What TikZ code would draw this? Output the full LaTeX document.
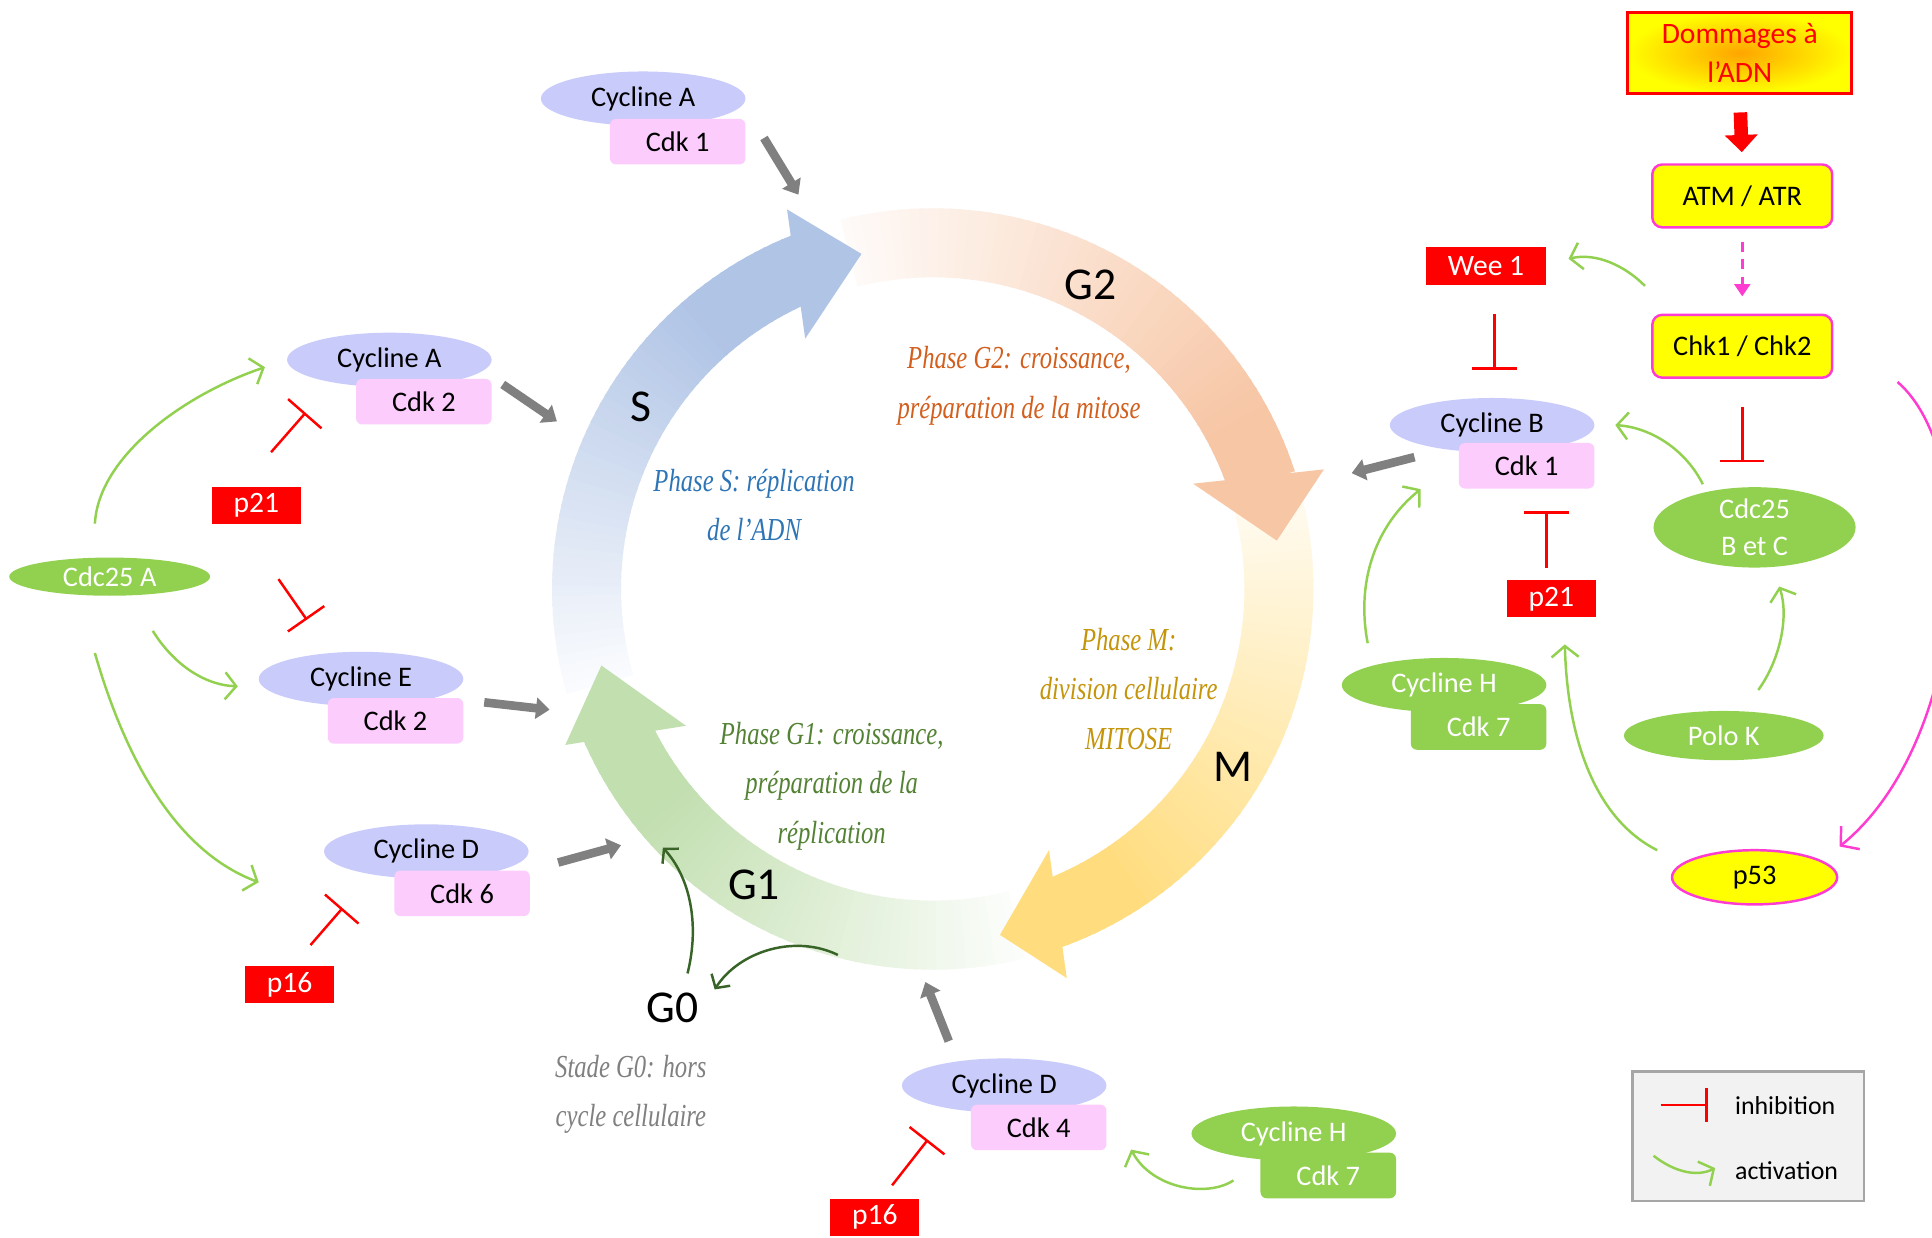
\documentclass[tikz,border=0pt]{standalone}
\usepackage{fontspec}
\usepackage{graphicx}
\setsansfont{Carlito}
\newfontfamily\handfont{Liberation Serif}
\usetikzlibrary{shapes.geometric,arrows.meta,calc}
\definecolor{lav}{RGB}{201,203,250}
\definecolor{pinkc}{RGB}{252,204,252}
\definecolor{grn}{RGB}{146,208,80}
\definecolor{redc}{RGB}{255,0,0}
\definecolor{mag}{RGB}{255,60,210}
\definecolor{ylw}{RGB}{255,255,0}
\definecolor{grayarr}{RGB}{128,128,128}
\definecolor{dkgrn}{RGB}{56,100,40}
\definecolor{ringB}{RGB}{176,196,230}
\definecolor{ringO}{RGB}{247,198,165}
\definecolor{ringY}{RGB}{255,220,125}
\definecolor{ringG}{RGB}{194,223,176}
\definecolor{txtS}{RGB}{46,117,182}
\definecolor{txtGB}{RGB}{210,95,30}
\definecolor{txtM}{RGB}{196,148,10}
\definecolor{txtGA}{RGB}{84,130,53}
\definecolor{txtGZ}{RGB}{128,128,128}
\definecolor{legfill}{RGB}{242,242,242}
\definecolor{legdraw}{RGB}{166,166,166}
\definecolor{domc}{RGB}{255,165,0}
\newcommand{\hl}[1]{\scalebox{1.0}[1.3]{#1}}
\tikzset{
 base/.style={font=\sffamily\fontsize{23}{27}\selectfont, inner sep=0pt},
 cyc/.style={base, ellipse, fill=lav, minimum width=166pt, minimum height=44pt},
 cdk/.style={base, rectangle, rounded corners=5pt, fill=pinkc, minimum width=110pt, minimum height=37pt},
 gcyc/.style={cyc, fill=grn, text=white},
 gcdk/.style={cdk, fill=grn, text=white},
 redbox/.style={base, font=\sffamily\fontsize{24}{27}\selectfont, fill=redc, text=white, minimum width=72pt, minimum height=30pt},
 ybox/.style={base, rectangle, rounded corners=8pt, fill=ylw, draw=mag, line width=2pt, minimum width=146pt, minimum height=51pt},
 gell/.style={base, ellipse, fill=grn, text=white},
 phaselbl/.style={font=\sffamily\fontsize{37}{40}\selectfont, inner sep=0pt},
 hand/.style={font=\handfont\itshape\fontsize{20}{40}\selectfont, align=center, inner sep=0pt},
 act/.style={draw=grn, line width=2pt, -{Straight Barb[length=9pt,width=22pt]}},
 inhib/.style={draw=redc, line width=2pt, -{Bar[width=36pt]}},
 grarr/.style={draw=grayarr, line width=7pt, -{Triangle[length=11pt,width=17pt]}},
 dgarr/.style={draw=dkgrn, line width=2pt, -{Straight Barb[length=8pt,width=18pt]}},
 magarr/.style={draw=mag, line width=2pt, -{Straight Barb[length=10pt,width=24pt]}},
}
\newcommand{\RingArc}[5]{%
  \pgfmathtruncatemacro{\rN}{(#2-(#3))/1.5}%
  \foreach \i in {0,...,\rN}{%
    \pgfmathsetmacro{\rA}{#2-1.5*\i}%
    \pgfmathsetmacro{\rB}{max(#3,\rA-1.9)}%
    \pgfmathsetmacro{\rP}{min(100,#4+(100-#4)*(#2-\rA)/#5)}%
    \fill[fill=#1!\rP!white] (\rA:253pt) -- (\rA:309pt) -- (\rB:309pt) -- (\rB:253pt) -- cycle;
  }}
\begin{document}
\begin{tikzpicture}[x=1pt,y=-1pt]
\useasboundingbox (0,0) rectangle (1568,1004);
\fill[white] (0,0) rectangle (1568,1004);

% ---------------- ring ----------------
\begin{scope}[shift={(757,478)}]
  \RingArc{ringB}{196}{111}{6}{65}
  \RingArc{ringO}{104}{17}{8}{75}
  \RingArc{ringY}{18}{-71}{8}{75}
  \RingArc{ringG}{-76}{-157}{6}{65}
  \fill[ringB] (117:228pt) -- (111:330pt) -- (102:278pt) -- cycle;
  \fill[ringO] (22:228pt) -- (17:332pt) -- (8:282pt) -- cycle;
  \fill[ringY] (-66:232pt) -- (-71:334pt) -- (-79:286pt) -- cycle;
  \fill[ringG] (-151:229pt) -- (-157:324pt) -- (-167:276pt) -- cycle;
\end{scope}

% phase labels
\node[phaselbl] (lS) at (520,330) {S};
\node[phaselbl] (lG2) at (885,231) {G2};
\node[phaselbl] (lM) at (1001,622) {M};
\node[phaselbl] (lG1) at (612,718) {G1};
\node[phaselbl] (lG0) at (546,818) {G0};

\node[hand, text=txtGB] (tG2) at (827,313) {\hl{Phase G2: croissance,}\\\hl{préparation de la mitose}};
\node[hand, text=txtS] (tS) at (612,410) {\hl{Phase S: réplication}\\\hl{de l’ADN}};
\node[hand, text=txtM] (tM) at (916,559) {\hl{Phase M:}\\\hl{division cellulaire}\\\hl{MITOSE}};
\node[hand, text=txtGA] (tG1) at (675,638) {\hl{Phase G1: croissance,}\\\hl{préparation de la}\\\hl{réplication}};
\node[hand, text=txtGZ] (tG0) at (512,888) {\hl{Stade G0: hors}\\\hl{cycle cellulaire}};

% ---------------- complexes ----------------
\node[cyc] (cycA1) at (522,80) {Cycline A};
\node[cdk] (cdkA1) at (550,115) {Cdk 1};
\node[cyc] (cycA2) at (316,292) {Cycline A};
\node[cdk] (cdkA2) at (344,326) {Cdk 2};
\node[cyc] (cycE) at (293,551) {Cycline E};
\node[cdk] (cdkE) at (321,585) {Cdk 2};
\node[cyc] (cycD6) at (346,691) {Cycline D};
\node[cdk] (cdkD6) at (375,725) {Cdk 6};
\node[cyc] (cycD4) at (815,881) {Cycline D};
\node[cdk] (cdkD4) at (843,915) {Cdk 4};
\node[cyc] (cycB) at (1211,345) {Cycline B};
\node[cdk] (cdkB) at (1239,378) {Cdk 1};
\node[gcyc] (cycH1) at (1172,556) {Cycline H};
\node[gcdk] (cdkH1) at (1200,590) {Cdk 7};
\node[gcyc] (cycH2) at (1050,920) {Cycline H};
\node[gcdk] (cdkH2) at (1078,954) {Cdk 7};

\node[gell, minimum width=163pt, minimum height=31pt] (cdcA) at (89,468) {Cdc25 A};
\node[gell, minimum width=164pt, minimum height=54pt, align=center, font=\sffamily\fontsize{23}{30}\selectfont] (cdcBC) at (1424,428) {Cdc25\\B et C};
\node[gell, minimum width=162pt, minimum height=40pt] (polo) at (1399,597) {Polo K};
\node[base, ellipse, fill=ylw, draw=mag, line width=2pt, minimum width=134pt, minimum height=44pt] (p53) at (1424,712) {p53};

\node[redbox] (p21L) at (208,410) {p21};
\node[redbox] (p16L) at (235,799) {p16};
\node[redbox] (p16B) at (710,988) {p16};
\node[redbox] (p21R) at (1259,486) {p21};
\node[redbox, minimum width=97pt, minimum height=31pt] (wee) at (1206,216) {Wee 1};

\node[base, rectangle, minimum width=182pt, minimum height=66pt, inner color=domc, outer color=ylw, draw=redc, line width=2.5pt, text=redc, align=center, font=\sffamily\fontsize{24}{31}\selectfont] (dom) at (1412,43) {Dommages à\\l’ADN};
\node[ybox] (atm) at (1414,159) {ATM / ATR};
\node[ybox] (chk) at (1414,281) {Chk1 / Chk2};

% ---------------- gray arrows to the cycle ----------------
\coordinate (gA1s) at (620,112); \coordinate (gA1e) at (648,158);
\coordinate (gA2s) at (408,312); \coordinate (gA2e) at (452,342);
\coordinate (gEs) at (393,570);  \coordinate (gEe) at (446,576);
\coordinate (gD6s) at (453,700); \coordinate (gD6e) at (504,686);
\coordinate (gD4s) at (770,845); \coordinate (gD4e) at (751,797);
\coordinate (gBs) at (1148,371); \coordinate (gBe) at (1097,384);
\draw[grarr] (gA1s) -- (gA1e);
\draw[grarr] (gA2s) -- (gA2e);
\draw[grarr] (gEs) -- (gEe);
\draw[grarr] (gD6s) -- (gD6e);
\draw[grarr] (gD4s) -- (gD4e);
\draw[grarr] (gBs) -- (gBe);

% ---------------- activation (green) ----------------
\coordinate (a1s) at (77,425);   \coordinate (a1e) at (215,298);
\coordinate (a2s) at (124,512);  \coordinate (a2e) at (193,557);
\coordinate (a3s) at (77,530);   \coordinate (a3e) at (210,716);
\coordinate (a4s) at (1001,958); \coordinate (a4e) at (918,933);
\coordinate (a5s) at (1110,522); \coordinate (a5e) at (1153,397);
\coordinate (a6s) at (1345,690); \coordinate (a6e) at (1270,523);
\coordinate (a7s) at (1427,560); \coordinate (a7e) at (1444,476);
\coordinate (a8s) at (1382,393); \coordinate (a8e) at (1311,345);
\coordinate (a9s) at (1335,232); \coordinate (a9e) at (1273,210);
\draw[act] (a1s) .. controls (80,370) and (150,320) .. (a1e);
\draw[act] (a2s) .. controls (140,538) and (165,556) .. (a2e);
\draw[act] (a3s) .. controls (100,610) and (140,690) .. (a3e);
\draw[act] (a4s) .. controls (980,972) and (935,965) .. (a4e);
\draw[act] (a5s) .. controls (1100,470) and (1118,425) .. (a5e);
\draw[act] (a6s) .. controls (1295,665) and (1272,600) .. (a6e);
\draw[act] (a7s) .. controls (1445,535) and (1452,500) .. (a7e);
\draw[act] (a8s) .. controls (1368,365) and (1340,347) .. (a8e);
\draw[act] (a9s) .. controls (1318,215) and (1295,205) .. (a9e);

% ---------------- inhibition (red) ----------------
\coordinate (i1s) at (220,367);  \coordinate (i1e) at (248,335);
\coordinate (i2s) at (226,470);  \coordinate (i2e) at (249,503);
\coordinate (i3s) at (252,767);  \coordinate (i3e) at (278,737);
\coordinate (i4s) at (724,962);  \coordinate (i4e) at (753,925);
\coordinate (i5s) at (1213,255); \coordinate (i5e) at (1213,300);
\coordinate (i6s) at (1255,461); \coordinate (i6e) at (1255,415);
\coordinate (i7s) at (1414,330); \coordinate (i7e) at (1414,375);
\draw[inhib] (i1s) -- (i1e);
\draw[inhib] (i2s) -- (i2e);
\draw[inhib] (i3s) -- (i3e);
\draw[inhib] (i4s) -- (i4e);
\draw[inhib] (i5s) -- (i5e);
\draw[inhib] (i6s) -- (i6e);
\draw[inhib] (i7s) -- (i7e);

% ---------------- G0 arrows ----------------
\coordinate (g0a) at (680,775); \coordinate (g0b) at (580,803);
\coordinate (g0c) at (558,790); \coordinate (g0d) at (538,688);
\draw[dgarr] (g0a) .. controls (645,758) and (600,772) .. (g0b);
\draw[dgarr] (g0c) .. controls (568,750) and (560,712) .. (g0d);

% ---------------- DNA damage pathway ----------------
\draw[redc, line width=11pt, -{Triangle[length=14pt,width=26pt]}, shorten <=14pt, shorten >=9pt] (dom.south) -- (atm.north);
\draw[mag, line width=2pt, dash pattern=on 8pt off 6pt, -{Triangle[length=10pt,width=13pt]}, shorten <=11pt, shorten >=14pt] (atm.south) -- (chk.north);
\coordinate (m1s) at (1540,310); \coordinate (m1e) at (1493,687);
\draw[magarr] (m1s) .. controls (1610,370) and (1600,600) .. (m1e);

% ---------------- legend ----------------
\node[draw=legdraw, fill=legfill, line width=2pt, minimum width=188pt, minimum height=105pt, inner sep=0pt] (leg) at (1419,922) {};
\coordinate (l1s) at (1348,897); \coordinate (l1e) at (1386,897);
\draw[draw=redc, line width=2pt, -{Bar[width=28pt]}] (l1s) -- (l1e);
\coordinate (l2s) at (1342,938); \coordinate (l2e) at (1392,948);
\draw[act] (l2s) .. controls (1360,952) and (1378,955) .. (l2e);
\node[base, font=\sffamily\fontsize{21}{24}\selectfont, anchor=west] (linh) at (1408,897) {inhibition};
\node[base, font=\sffamily\fontsize{21}{24}\selectfont, anchor=west] (lact) at (1408,950) {activation};
\end{tikzpicture}
\end{document}
